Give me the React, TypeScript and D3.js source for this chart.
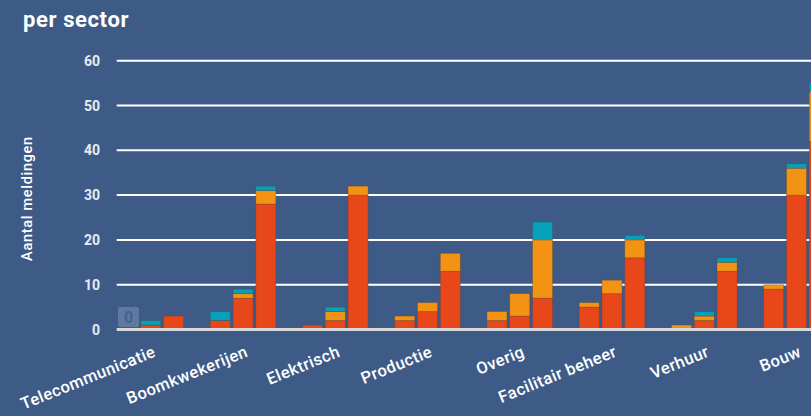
import React from "react";
import * as d3 from "d3";

const categories = [
  "Telecommunicatie",
  "Boomkwekerijen",
  "Elektrisch",
  "Productie",
  "Overig",
  "Facilitair beheer",
  "Verhuur",
  "Bouw",
];
const stacks = ["2019", "2020", "2021"];
const seriesKeys = ["laag", "midden", "hoog"];
const seriesColors = ["#e8471a", "#f39314", "#05a0b9"];

// values per category: [stack0, stack1, stack2]
const laagValues = [[0, 1, 3], [2, 7, 28], [1, 2, 30], [2, 4, 13], [2, 3, 7], [5, 8, 16], [0, 2, 13], [9, 30, 42]];
const middenValues = [[0, 0, 0], [0, 1, 3], [0, 2, 2], [1, 2, 4], [2, 5, 13], [1, 3, 4], [1, 1, 2], [1, 6, 11]];
const hoogValues = [[0, 1, 0], [2, 1, 1], [0, 1, 0], [0, 0, 0], [0, 0, 4], [0, 0, 1], [0, 1, 1], [0, 1, 2]];
const yTicks = [0, 10, 20, 30, 40, 50, 60];

const W = 811;
const H = 416;
const BG = "#3e5b87";
const FONT = "Roboto, 'Noto Sans', sans-serif";

export default function App() {
  const plotLeft = 116.7;
  const catStep = 92.24;
  const y = d3.scaleLinear().domain([0, 60]).range([329.5, 60.7]);
  const x0 = d3
    .scaleBand<string>()
    .domain(categories)
    .range([plotLeft, plotLeft + catStep * categories.length]);
  const x1 = d3
    .scaleBand<string>()
    .domain(stacks)
    .range([1.3, 66.9])
    .paddingInner(0.123)
    .paddingOuter(0);

  const rows: any[] = [];
  categories.forEach((c, ci) => {
    stacks.forEach((s, si) => {
      rows.push({
        cat: c,
        stack: s,
        laag: laagValues[ci][si],
        midden: middenValues[ci][si],
        hoog: hoogValues[ci][si],
      });
    });
  });
  const stacked = d3.stack<any>().keys(seriesKeys)(rows);

  return (
    <svg
      width={W}
      height={H}
      style={{ position: "absolute", left: 0, top: 0, display: "block" }}
    >
      <rect x={0} y={0} width={W} height={H} fill={BG} />
      <text
        x={23}
        y={26.5}
        fill="#fff"
        fontFamily={FONT}
        fontWeight={700}
        fontSize={22}
        letterSpacing={0.6}
      >
        per sector
      </text>
      {/* grid */}
      {yTicks.map((t) =>
        t === 0 ? null : (
          <line
            key={t}
            x1={plotLeft}
            x2={W}
            y1={y(t)}
            y2={y(t)}
            stroke="#ffffff"
            strokeWidth={2}
          />
        )
      )}
      {yTicks.map((t) => (
        <text
          key={"l" + t}
          x={100}
          y={y(t)}
          dy="0.36em"
          textAnchor="end"
          fill="#e8ecf2"
          fontFamily={FONT}
          fontWeight={700}
          fontSize={14}
        >
          {t}
        </text>
      ))}
      <text
        transform={`translate(32,198.5) rotate(-90)`}
        textAnchor="middle"
        fill="#fff"
        fontFamily={FONT}
        fontWeight={500}
        fontSize={14.5}
        letterSpacing={0.7}
      >
        Aantal meldingen
      </text>
      {/* bars */}
      {stacked.map((layer, li) => (
        <g key={layer.key}>
          {layer.map((d: any, i: number) => {
            const h = y(d[0]) - y(d[1]);
            if (h <= 0) return null;
            return (
              <rect
                key={i}
                x={(x0(d.data.cat) as number) + (x1(d.data.stack) as number)}
                y={y(d[1])}
                width={x1.bandwidth()}
                height={h}
                fill={seriesColors[li]}
                stroke="rgba(90,60,50,0.35)"
                strokeWidth={0.8}
              />
            );
          })}
        </g>
      ))}
      {/* zero data label */}
      {rows
        .filter((r) => r.laag + r.midden + r.hoog === 0)
        .map((r, i) => {
          const bx = (x0(r.cat) as number) + (x1(r.stack) as number);
          return (
            <g key={"z" + i}>
              <rect
                x={bx}
                y={y(0) - 22.5}
                width={21}
                height={20}
                rx={2}
                fill="#6079a1"
              />
              <text
                x={bx + 10.5}
                y={y(0) - 12.5}
                dy="0.36em"
                textAnchor="middle"
                fill="#45628e"
                fontFamily={FONT}
                fontWeight={700}
                fontSize={16}
              >
                0
              </text>
            </g>
          );
        })}
      {/* baseline */}
      <line x1={plotLeft} x2={W} y1={y(0)} y2={y(0)} stroke="#d9d9d9" strokeWidth={3} />
      {/* x labels */}
      {categories.map((c) => (
        <text
          key={c}
          transform={`translate(${(x0(c) as number) + 40},356) rotate(-22)`}
          textAnchor="end"
          fill="#fff"
          fontFamily={FONT}
          fontWeight={500}
          fontSize={16.5}
          letterSpacing={0.45}
        >
          {c}
        </text>
      ))}
    </svg>
  );
}
